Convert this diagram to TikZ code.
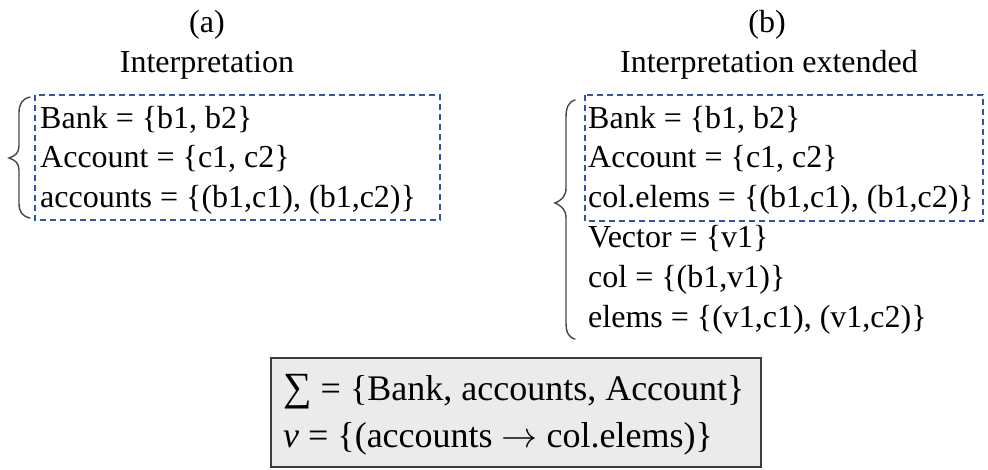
\RequirePackage{fix-cm}
\documentclass[tikz,border=0pt]{standalone}
\usepackage{fontspec}
\setmainfont{Liberation Serif}
\definecolor{dashblue}{RGB}{47,84,170}
\definecolor{boxfill}{RGB}{235,235,235}
\definecolor{boxline}{RGB}{60,60,60}
\definecolor{bracecol}{RGB}{70,70,70}
\begin{document}
\begin{tikzpicture}[x=1pt,y=-1pt,
  txt/.style={anchor=base west,inner sep=0pt,font=\fontsize{32}{38}\selectfont},
  bigtxt/.style={anchor=base west,inner sep=0pt,font=\fontsize{36}{42}\selectfont},
  head/.style={anchor=base,inner sep=0pt,font=\fontsize{32}{38}\selectfont},
  dashbox/.style={draw=dashblue,line width=1.3pt,dash pattern=on 6pt off 4pt},
  sigbox/.style={draw=boxline,fill=boxfill,line width=2pt},
  bracepath/.style={draw=bracecol,line width=1.4pt,line cap=round}]
\useasboundingbox (0,0) rectangle (988,469);
% headers
\node[head] (ha) at (207,32) {(a)};
\node[head] (ia) at (207,72) {Interpretation};
\node[head] (hb) at (767,32) {(b)};
\node[head] (ib) at (769,72) {Interpretation extended};
% (a)
\draw[dashbox] (35,95) rectangle (440,220);
\node[txt] (a1) at (40,128) {Bank = \{b1, b2\}};
\node[txt] (a2) at (40,167.5) {Account = \{c1, c2\}};
\node[txt] (a3) at (40,207) {accounts = \{(b1,c1), (b1,c2)\}};
\draw[bracepath] (30,97) .. controls (22,99) and (19,104) .. (19,113)
  -- (19,146) .. controls (19,153) and (15,156) .. (9,158)
  .. controls (15,160) and (19,163) .. (19,170)
  -- (19,203) .. controls (19,212) and (22,216) .. (30,218);
% (b)
\draw[dashbox] (585,95) rectangle (983,221);
\node[txt] (b1) at (588,128) {Bank = \{b1, b2\}};
\node[txt] (b2) at (588,167.5) {Account = \{c1, c2\}};
\node[txt] (b3) at (588,207) {col.elems = \{(b1,c1), (b1,c2)\}};
\node[txt] (b4) at (588,247) {Vector = \{v1\}};
\node[txt] (b5) at (588,287) {col = \{(b1,v1)\}};
\node[txt] (b6) at (588,327) {elems = \{(v1,c1), (v1,c2)\}};
\draw[bracepath] (575,100) .. controls (568,102) and (566,108) .. (566,118)
  -- (566,188) .. controls (566,196) and (562,200) .. (555,203)
  .. controls (562,206) and (566,210) .. (566,218)
  -- (566,322) .. controls (566,332) and (568,337) .. (575,339);
% bottom box
\draw[sigbox] (271,358) rectangle (761,467);
\node[bigtxt] (s1) at (283,400) {{\fontsize{40}{40}\selectfont ∑} = \{Bank, accounts, Account\}};
\node[bigtxt] (s2) at (283,447) {\textit{ν} = \{(accounts $\rightarrow$ col.elems)\}};
\end{tikzpicture}
\end{document}
